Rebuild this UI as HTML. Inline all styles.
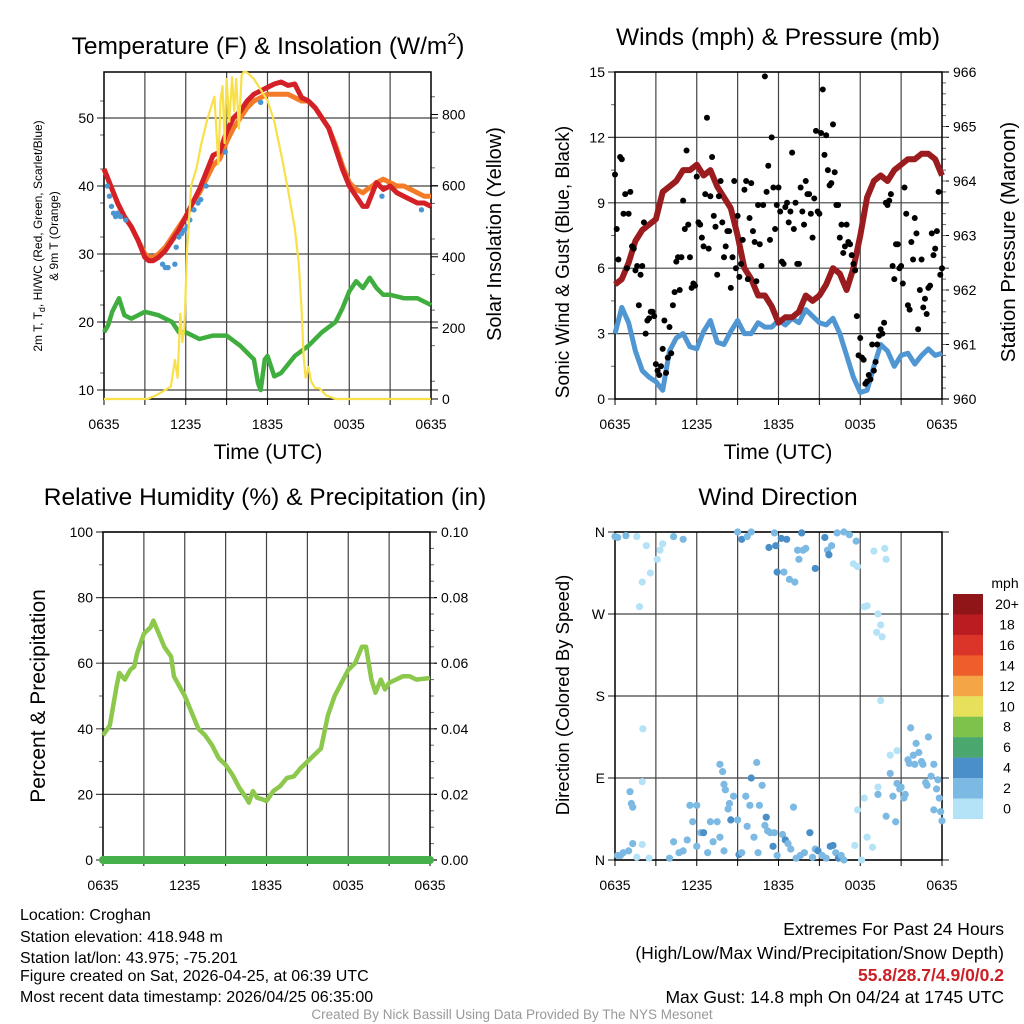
<!DOCTYPE html>
<html><head><meta charset="utf-8"><style>
body{margin:0;background:#fff;}
svg{display:block;font-family:"Liberation Sans",sans-serif;}
</style></head><body>
<svg id="s" width="1024" height="1024" viewBox="0 0 1024 1024">
<text x="268" y="54" font-size="24.5" text-anchor="middle">Temperature (F) &amp; Insolation (W/m<tspan dy="-10" font-size="16">2</tspan><tspan dy="10">)</tspan></text>
<text x="778" y="45" font-size="24.5" text-anchor="middle">Winds (mph) &amp; Pressure (mb)</text>
<text x="265" y="505" font-size="24.5" text-anchor="middle">Relative Humidity (%) &amp; Precipitation (in)</text>
<text x="778" y="505" font-size="24.5" text-anchor="middle">Wind Direction</text>
<text x="268" y="459" font-size="21" text-anchor="middle">Time (UTC)</text>
<text x="778" y="459" font-size="21" text-anchor="middle">Time (UTC)</text>
<text transform="translate(42,236) rotate(-90)" font-size="12" text-anchor="middle">2m T, T<tspan font-size="9" dy="3">d</tspan><tspan dy="-3">, HI/WC (Red, Green, Scarlet/Blue)</tspan></text>
<text transform="translate(58,236) rotate(-90)" font-size="12" text-anchor="middle">&amp; 9m T (Orange)</text>
<text transform="translate(501,234) rotate(-90)" font-size="20" text-anchor="middle">Solar Insolation (Yellow)</text>
<text transform="translate(569,262) rotate(-90)" font-size="19" text-anchor="middle">Sonic Wind &amp; Gust (Blue, Black)</text>
<text transform="translate(1015,242) rotate(-90)" font-size="20.5" text-anchor="middle">Station Pressure (Maroon)</text>
<text transform="translate(45,696) rotate(-90)" font-size="21" text-anchor="middle">Percent &amp; Precipitation</text>
<text transform="translate(569,695) rotate(-90)" font-size="18.5" text-anchor="middle">Direction (Colored By Speed)</text>
<g font-size="16">
<text x="20" y="920">Location: Croghan</text>
<text x="20" y="942">Station elevation: 418.948 m</text>
<text x="20" y="963">Station lat/lon: 43.975; -75.201</text>
<text x="20" y="981">Figure created on Sat, 2026-04-25, at 06:39 UTC</text>
<text x="20" y="1002">Most recent data timestamp: 2026/04/25 06:35:00</text>
</g>
<g font-size="17.5" text-anchor="end">
<text x="1004" y="935">Extremes For Past 24 Hours</text>
<text x="1004" y="959">(High/Low/Max Wind/Precipitation/Snow Depth)</text>
<text x="1004" y="981" fill="#cc2027" font-weight="bold">55.8/28.7/4.9/0/0.2</text>
<text x="1004" y="1003">Max Gust: 14.8 mph On 04/24 at 1745 UTC</text>
</g>
<text x="512" y="1019" font-size="13.5" fill="#999" text-anchor="middle">Created By Nick Bassill Using Data Provided By The NYS Mesonet</text>
<text x="1005" y="588" font-size="14" text-anchor="middle">mph</text>
</svg>
<script>
// ---- Temperature panel data ----
const tempT=[0,0.5,1,1.5,2,2.5,3,3.3,3.6,4,4.5,5,5.5,6,6.5,7,7.5,8,8.5,9,9.5,10,10.5,11,11.5,12,12.5,13,13.5,14,14.5,15,15.5,16,16.5,17,17.5,18,18.5,19,19.3,19.7,20,20.5,21,21.5,22,22.5,23,23.5,24];
const temp2m=[42.5,40,37.5,35.5,34,32,29.5,29,29,29.5,30.5,32,33.5,35.5,37.5,39.5,42,44.5,45,48,50,51,52.5,53.5,54,54.5,55,55.3,54.8,55,53,52.5,51.5,50,48.5,45.5,42.5,40,38.5,37,37,39,40.5,39.5,40,39,38.5,38,37.5,37.5,37];
const temp9m=[42.5,40,37.5,35.5,34,32,30,29.5,29.5,30,31,32.5,34,35.5,37.5,39,41,43,44,46.5,48.5,50,51.5,52.5,53,53.5,53.5,53.5,53.5,53,52.5,52.5,51.5,50,48.5,46,43,40.5,39.5,39,39.5,40,40.5,41,40.5,40,40,39.5,39,38.5,38.5];
const wcT=[0.25,0.4,0.55,0.7,0.85,1.0,1.2,1.6,4.3,4.5,4.7,5.2,5.3,5.5,5.7,5.9,6.1,6.3,6.6,6.9,7.1,7.5,8.9,11.5,20.4,23.3];
const wcV=[40,38.5,37,36,35.5,36,35.5,35,28.5,28,28,28.5,31,32.5,33,33.5,34,35,36.5,37.5,38,40,45,52.3,38.5,36.5];
const dewT=[0,0.3,0.6,1.1,1.5,2,2.5,3,4,5,5.5,6,7,8,9,10,10.5,11,11.3,11.5,11.8,12,12.5,13,14,15,16,17,17.5,18,18.5,19,19.5,20,20.5,21,22,23,24];
const dewV=[18.5,19.5,21.5,23.5,21,20.5,21,21.5,21,20,18.5,18.5,17.5,18,18,16.5,15.5,14.5,11,10,14.5,15,12,12.5,15,16.5,18.5,20,22,24.5,26,25,26.5,25,24,24,23.5,23.5,22.5];
const solT=[0,3.2,3.8,4.5,4.9,5.2,5.4,5.6,5.75,5.9,6.1,6.4,6.8,7.1,7.6,8.1,8.4,8.55,8.7,8.85,9.0,9.2,9.4,9.55,9.7,9.9,10.1,10.25,10.4,10.6,11,11.5,12,12.5,13,13.5,14,14.3,14.5,14.65,14.8,15,15.2,15.5,15.8,16.3,17,24];
const solV=[0,0,10,25,35,110,60,240,160,200,420,600,650,710,790,850,660,840,880,720,900,780,905,810,900,760,910,920,920,915,900,870,840,780,690,590,480,380,250,120,60,90,50,30,30,10,0,0];
const tempTicks=[10,20,30,40,50];
const solTicks=[0,200,400,600,800];
const timeLabels=["0635","1235","1835","0035","0635"];
// ---- Winds panel data (half-hourly) ----
const windV=[3,4.2,3.5,2.2,1.3,1,0.8,0.4,2.2,2.8,3,2.4,2.3,3.1,3.6,2.6,2.5,3.1,3.6,3,3,3.5,3.3,3.3,3.6,3.4,3.7,3.5,4.1,3.8,3.5,3.4,3.7,3,2,1,0.3,0.4,1.5,2.5,2.2,1.5,2,2.1,1.6,2,2.3,2,2.1];
const presV=[962.1,962.2,962.5,962.9,963.1,963.2,963.3,963.8,963.9,964.0,964.2,964.2,964.3,964.1,964.2,963.9,963.7,963.5,963.0,962.4,962.2,961.9,961.9,961.7,961.4,961.5,961.5,961.6,961.9,961.8,961.9,962.1,962.4,962.3,962.0,962.4,963.0,963.7,964.0,964.1,964.0,964.2,964.3,964.4,964.4,964.5,964.5,964.4,964.1];
// gusts every 15 minutes (on the quarter hour)
const gustV=[10.3,6.4,11.0,9.4, 8.5,7.0,5.9,4.3, 6.1,3.0,3.7,4.0, 1.6,1.1,2.3,1.2, 3.3,4.3,6.3,5.0, 9.1,11.4,6.5,5.3, 10.2,8.0,7.0,12.9, 9.3,8.4,5.7,10.0, 6.5,7.7,5.1,10.0, 8.4,6.2,9.6,5.5, 9.9,7.2,8.9,6.1, 14.8,10.7,12.0,7.8, 9.7,6.3,8.8,8.1, 11.3,9.0,6.2,8.6, 10.0,9.4,7.4,12.3, 8.5,14.2,12.1,9.8, 12.6,8.9,7.4,6.7, 8.0,7.1,6.2,3.8, 2.8,1.8,0.8,0.9, 1.3,2.5,3.2,3.5, 8.9,9.4,5.5,7.1, 6.1,9.7,4.3,7.2, 8.3,3.2,6.4,4.6, 5.1,7.6,6.9,9.5, 6.0];
// gusts offset by 7.5 minutes
const gustV2=[7.8,11.1,8.5,6.0, 9.5,6.9,6.1,5.7, 8.1,3.6,4.0,3.8, 1.3,1.5,3.6,1.9, 2.1,4.9,6.5,6.5, 7.8,8.0,5.1,5.2, 8.1,7.4,9.4,6.9, 11.1,7.9,9.3,8.1, 7.0,7.7,6.5,6.0, 5.6,7.3,10.0,8.3, 7.7,5.4,7.1,8.9, 9.5,7.3,9.7,8.9, 8.6,6.2,9.0,8.6, 7.8,6.2,9.7,8.0, 9.4,8.5,9.2,8.6, 12.2,11.2,10.5,9.9, 10.4,8.9,8.0,7.0, 7.2,6.6,5.9,2.0, 1.9,0.7,1.1,2.5, 1.7,2.9,3.0,9.0, 9.1,6.1,7.1,6.0, 5.3,8.5,4.1,6.4, 7.6,5.0,4.2,3.9, 5.2,6.6,7.7,5.7];
const windTicks=[0,3,6,9,12,15];
const presTicks=[960,961,962,963,964,965,966];
// ---- RH panel ----
const rhT=[0,0.5,1,1.2,1.6,2,2.3,2.5,3,3.5,3.7,4,4.5,5,5.2,6,6.5,7,7.5,8,8.5,9,9.5,10,10.5,10.7,11,11.3,11.7,12,12.5,13,13.5,14,14.5,15,15.5,16,16.5,17,17.5,18,18.5,19,19.3,19.7,20,20.4,20.7,21,22,22.5,23,24];
const rhV=[38,41,53,57,55,58,59,63,69,71,73,70,65,62,56,50,45,40,38,35,31,29,26,22,19,17.5,21,19,18.5,18,21,22.5,25,25.5,28,30,32,34,44,50,54,58,60,65,65,55,51,55,52,54,56,56,55,55.5];
const precipV=[0,0];
const rhTicks=[0,20,40,60,80,100];
const precipTicks=["0.00","0.02","0.04","0.06","0.08","0.10"];
// ---- Wind direction ----
const dirT=[0,0.2,0.8,1.6,2.3,3.1,3.3,3.5,4.3,5,2,2.6,1.8,0.2,0.4,0.6,1,1.3,2,1.6,2.5,1.1,1.2,1.3,2,2.05,
4,4.3,4.7,5,5.3,5.5,5.7,6,6,6.3,6.5,6.8,7,7.2,7.5,7.7,8,7.7,7.9,8,8.1,8.4,8.5,8.3,8.7,9,9.1,9.3,9.6,9.7,9.9,10,10.2,10.4,10.6,10.5,10.8,11,11.1,11.2,11.4,11.6,11.7,11.9,12.3,12.5,12.7,12.9,13.1,13.3,13.6,13.9,14.3,14.5,14.7,14.9,15.2,15.5,15.8,16,16.2,16.4,16.6,16.8,
9,9.3,9.7,10,11.3,11.8,11.7,11.9,12.2,12.4,12.6,12.8,13.2,13.4,13.5,13.7,13.8,14,14.7,15.4,15.6,15.7,15.9,16.3,16.8,17.2,17.5,17.8,17.7,
18.3,18.5,19,19.3,19.5,19.2,19.6,19.5,19.9,19.8,
17.6,17.8,18.3,18.5,18.9,18.1,19.3,19.3,19.9,20.2,20.4,20.6,20.7,20.9,21,21.2,21.3,21.7,21.5,21.9,22.1,22.3,22.5,22.6,22.8,23,23.2,23.4,23.4,23.6,23.7,23.8,23.9,24,22.9,21.6,22,20.2,20.7];
const dirV=[355,354,356,355,345,330,340,347,355,352,305,315,278,5,5,8,10,18,17,3,2,75,62,58,86,144,
2,20,8,10,22,60,42,60,15,30,30,8,42,20,42,25,10,105,97,83,77,62,44,56,70,44,6,8,70,37,60,90,25,107,60,8,82,38,47,32,30,15,30,5,28,22,18,12,58,2,5,8,30,3,12,10,5,2,15,16,8,2,5,0,
360,352,355,360,343,345,359,316,353,316,352,308,305,340,330,359,340,342,320,354,340,335,345,359,360,357,325,322,350,
278,279,339,270,258,250,245,175,330,342,
16,55,68,25,14,0,80,72,48,95,70,42,84,78,80,68,72,145,110,115,128,118,108,105,85,135,92,105,55,78,88,68,53,43,82,106,105,115,120];
const dirS=[3,2.5,3,1.5,1,0.5,1,1,2.5,2.5,0.5,1,0.5,3,3.5,3,3,2.5,1,1.5,1,3,2.5,2.5,0.5,0.5,
2.5,2.5,3,3,2.5,3,3,2.5,3,3,4,3.5,2.5,3,3,2.5,3.5,3,2.5,3,2.5,3,4.5,3,3,3.5,4,3,2.5,3,3,4.5,3,2.5,3,3.5,3,3,4,3,3.5,4,3.5,3,3.5,4,3,3,2.5,3.5,3,3.5,4,3.5,3,4,3,3.5,4,4.5,3.5,4,3,3.5,
3.5,4,3,3.5,4.5,4.5,3,4.5,4,3,4,2.5,2.5,3,3.5,4.5,3,3.5,4,4,3.5,4,3,3,3,2.5,1.5,1.5,2,
1,1,1,1.5,1.5,1,1,1,1,1,
1.5,1,1,1,1,0.5,1,2.5,3.5,3,3,3,2.5,3,3,3.5,3,3.5,3,3,3,3.5,3,2.5,3,3.5,3,3,3.5,2.5,3,3,3,3,3,2.5,3,1,1];
const dirTicks=["N","E","S","W","N"];
const cbLabels=["20+","18","16","14","12","10","8","6","4","2","0"];
const cbColors=["#8f1519","#bb1c22","#db3429","#ee5e2a","#f4a546","#e6e05b","#7fc24b","#4aa86e","#4a8fc7","#7cb9e3","#b4e2f7"];

const NS="http://www.w3.org/2000/svg";
const svg=document.getElementById('s');
function mk(tag,at,parent){const e=document.createElementNS(NS,tag);for(const k in at)e.setAttribute(k,at[k]);(parent||svg).appendChild(e);return e;}
function pts(xs,ys,fx,fy){return xs.map((x,i)=>fx(x).toFixed(1)+","+fy(ys[i]).toFixed(1)).join(" ");}

const P1={l:104,r:431,t:72,b:399},P2={l:615,r:942,t:72,b:399},P3={l:103,r:430,t:532,b:860},P4={l:615,r:942,t:532,b:860};
function xf(P){return h=>P.l+h*(P.r-P.l)/24;}
const x1=xf(P1),x2=xf(P2),x3=xf(P3),x4=xf(P4);
const yT=v=>390-(v-10)*6.8;
const yS=v=>399-v*0.3556;
const yW=v=>P2.b-v*(P2.b-P2.t)/15;
const yP=p=>P2.b-(p-960)*(P2.b-P2.t)/6;
const yR=v=>P3.b-v*(P3.b-P3.t)/100;
const yD=d=>P4.b-d*(P4.b-P4.t)/360;

function frame(P,name,xfun,yvals,yfun,ylabs,rvals,rfun,rlabs,minL,minR){
  const g=mk('g',{});
  
  
  for(let h=3;h<24;h+=3){
    const ln=mk('line',{x1:xfun(h),x2:xfun(h),y1:P.t,y2:P.b,stroke:'#444','stroke-width':1.2},g);
    
    
  }
  yvals.forEach((v,i)=>{
    const y=yfun(v);
    const ln=mk('line',{x1:P.l-7,x2:P.r+7,y1:y,y2:y,stroke:'#444','stroke-width':1.2},g);
    
    
    const t=mk('text',{x:P.l-10,y:y+5,'font-size':14,'text-anchor':'end'},g);
    t.textContent=ylabs[i];
    
    
  });
  rvals.forEach((v,i)=>{
    const y=rfun(v);
    const ln=mk('line',{x1:P.r,x2:P.r+7,y1:y,y2:y,stroke:'#000','stroke-width':1},g);
    
    
    const t=mk('text',{x:P.r+11,y:y+5,'font-size':14},g);
    t.textContent=rlabs[i];
    
    
  });
  minL.forEach(y=>{const m=mk('line',{x1:P.l-4,x2:P.l,y1:y,y2:y,stroke:'#666'},g);
    
    });
  minR.forEach(y=>{const m=mk('line',{x1:P.r,x2:P.r+4,y1:y,y2:y,stroke:'#666'},g);
    
    });
  for(let h=0;h<=24;h+=3){
    const tk=mk('line',{x1:xfun(h),x2:xfun(h),y1:P.b,y2:P.b+6,stroke:'#000'},g);
    
    
  }
  timeLabels.forEach((s,i)=>{
    const t=mk('text',{x:xfun(i*6),y:P.b+30,'font-size':14,'text-anchor':'middle'},g);
    t.textContent=s;
    
    
  });
  const b=mk('rect',{x:P.l,y:P.t,width:P.r-P.l,height:P.b-P.t,fill:'none',stroke:'#000','stroke-width':1.5},g);
  
  
}
function range(a,b,s){const r=[];for(let v=a;v<=b+1e-9;v+=s)r.push(v);return r;}

// Panel 1
frame(P1,'temperature',x1,tempTicks,yT,tempTicks,solTicks,yS,solTicks,
  range(12.5,57,5).map(yT),range(50,900,100).map(yS));
let e;
e=mk('polyline',{points:pts(dewT,dewV,x1,yT),fill:'none',stroke:'#3fae3f','stroke-width':4.5,'stroke-linejoin':'round'});


e=mk('polyline',{points:pts(tempT,temp9m,x1,yT),fill:'none',stroke:'#f47c28','stroke-width':5,'stroke-linejoin':'round'});


e=mk('polyline',{points:pts(tempT,temp2m,x1,yT),fill:'none',stroke:'#d42027','stroke-width':5,'stroke-linejoin':'round'});


wcT.forEach((t,i)=>{
  const c=mk('circle',{cx:x1(t),cy:yT(wcV[i]),r:2.7,fill:'#4a95d2'});
  
  
});
e=mk('polyline',{points:pts(solT,solV,x1,yS),fill:'none',stroke:'#f8e04a','stroke-width':2.2,'stroke-linejoin':'round'});



// Panel 2
frame(P2,'winds',x2,windTicks,yW,windTicks,presTicks,yP,presTicks,
  range(1.5,14,3).map(yW),range(960.2,965.9,0.2).map(yP));
const halfT=windV.map((v,i)=>i/2);
e=mk('polyline',{points:pts(halfT,windV,x2,yW),fill:'none',stroke:'#4f96d2','stroke-width':5,'stroke-linejoin':'round'});


e=mk('polyline',{points:pts(halfT,presV,x2,yP),fill:'none',stroke:'#9a1c1f','stroke-width':6,'stroke-linejoin':'round'});


gustV.forEach((v,i)=>{
  const c=mk('circle',{cx:x2(i/4),cy:yW(v),r:3,fill:'#000'});
  
  
});
gustV2.forEach((v,i)=>{
  const c=mk('circle',{cx:x2(i/4+0.125),cy:yW(v),r:3,fill:'#000'});
  
  
});

// Panel 3
frame(P3,'humidity',x3,rhTicks,yR,rhTicks,rhTicks,yR,precipTicks,
  range(10,90,20).map(yR),range(5,95,5).map(yR));
e=mk('polyline',{points:pts(rhT,rhV,x3,yR),fill:'none',stroke:'#8cc84b','stroke-width':4.5,'stroke-linejoin':'round'});


e=mk('polyline',{points:pts([0,24],precipV,x3,yR),fill:'none',stroke:'#46b04a','stroke-width':8,'stroke-linecap':'round'});



// Panel 4
frame(P4,'wind-direction',x4,[0,90,180,270,360],yD,dirTicks,[],yD,[],[],[]);
function spdColor(s){return s<2?cbColors[10]:s<4?cbColors[9]:s<6?cbColors[8]:cbColors[7];}
dirT.forEach((t,i)=>{
  const c=mk('circle',{cx:x4(t),cy:yD(dirV[i]),r:3.6,fill:spdColor(dirS[i])});
  
  
});
cbColors.forEach((col,i)=>{
  const r=mk('rect',{x:953,y:594+i*20.45,width:30,height:20.6,fill:col});
  
  
  const t=mk('text',{x:1007,y:594+i*20.45+15,'font-size':14,'text-anchor':'middle'});
  t.textContent=cbLabels[i];
  
  
});
</script>
</body></html>
